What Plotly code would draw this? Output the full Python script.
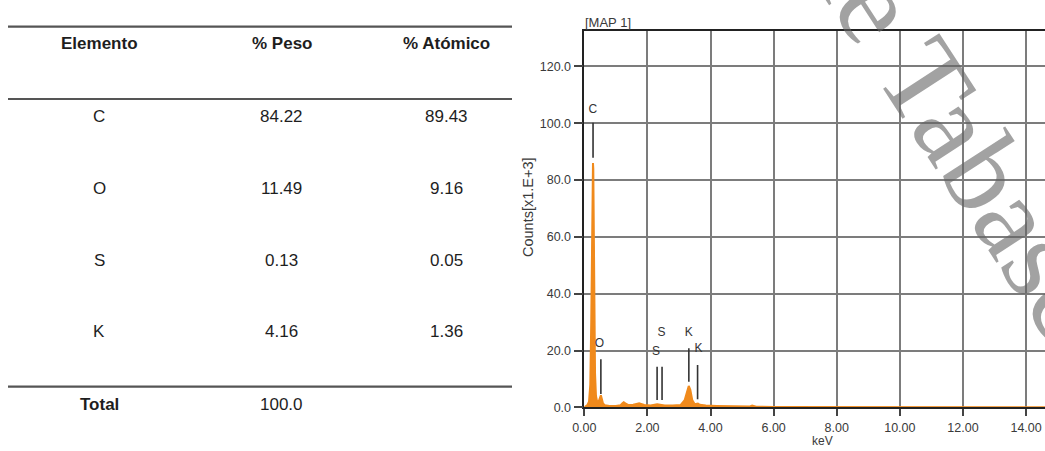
import plotly.graph_objects as go

# ---------------- data ----------------
headers = ["Elemento", "% Peso", "% Atómico"]
elements = ["C", "O", "S", "K"]
peso = ["84.22", "11.49", "0.13", "4.16"]
atomico = ["89.43", "9.16", "0.05", "1.36"]
total_label = "Total"
total_peso = "100.0"

# EDS spectrum (keV, counts x1000)
energy_kev = [0.00, 0.05, 0.10, 0.15, 0.19, 0.22, 0.24, 0.26, 0.275, 0.285, 0.30, 0.32, 0.34,
              0.37, 0.41, 0.46, 0.50, 0.525, 0.55, 0.59, 0.65, 0.80, 1.00, 1.15, 1.21,
              1.25, 1.30, 1.40, 1.55, 1.68, 1.74, 1.80, 1.90, 2.10, 2.25, 2.31, 2.40,
              2.55, 2.80, 3.05, 3.18, 3.25, 3.31, 3.36, 3.42, 3.50, 3.56, 3.60, 3.66,
              3.85, 4.20, 4.70, 5.10, 5.25, 5.32, 5.45, 6.00, 8.00, 10.00, 12.00, 14.60]
counts_k = [0.0, 0.3, 0.8, 2.0, 8.0, 30.0, 60.0, 82.0, 86.0, 84.0, 62.0, 30.0, 12.0,
            4.0, 1.8, 2.2, 3.5, 4.2, 3.2, 1.4, 0.7, 0.5, 0.5, 0.7, 1.4,
            1.8, 1.4, 0.8, 0.9, 1.3, 1.4, 1.2, 0.8, 0.6, 0.9, 1.1, 0.9,
            0.6, 0.6, 0.8, 2.5, 5.5, 7.5, 6.2, 2.6, 1.1, 1.2, 1.3, 0.9,
            0.6, 0.5, 0.4, 0.3, 0.3, 0.6, 0.2, 0.1, 0.05, 0.05, 0.05, 0.05]

# peak identification markers
marker_labels = ["C", "O", "S", "S", "K", "K"]
marker_energy = [0.277, 0.525, 2.307, 2.464, 3.313, 3.590]
marker_top = [100.2, 16.9, 14.3, 14.3, 20.8, 14.9]
marker_bottom = [87.9, 4.7, 2.6, 2.6, 9.0, 2.8]
label_energy = [0.27, 0.48, 2.27, 2.45, 3.31, 3.62]
label_counts = [104.8, 22.2, 19.6, 26.0, 26.3, 20.4]

x_ticks = [0, 2, 4, 6, 8, 10, 12, 14]
y_ticks = [0, 20, 40, 60, 80, 100, 120]

W, H = 1045, 451


def px(x):
    return x / W


def py(y):
    return 1 - y / H


fig = go.Figure()

# spectrum
fig.add_trace(go.Scatter(
    x=energy_kev, y=counts_k, mode="lines",
    line=dict(color="#F08A1C", width=2),
    fill="tozeroy", fillcolor="#F08A1C",
    hoverinfo="skip", showlegend=False))

# marker lines
mx, my = [], []
for e, t, b in zip(marker_energy, marker_top, marker_bottom):
    mx += [e, e, None]
    my += [b, t, None]
fig.add_trace(go.Scatter(x=mx, y=my, mode="lines",
                         line=dict(color="#333333", width=1.6),
                         hoverinfo="skip", showlegend=False))

fig.add_trace(go.Scatter(x=label_energy, y=label_counts, mode="text",
                         text=marker_labels,
                         textfont=dict(family="Liberation Sans", size=12, color="#333333"),
                         hoverinfo="skip", showlegend=False))

tick_font = dict(family="Liberation Sans", size=12.5, color="#3a3a3a")

fig.update_xaxes(
    domain=[px(584.3), 1.0], range=[0, 14.60], automargin=False,
    tickvals=x_ticks, ticktext=[f"{v:.2f}" for v in x_ticks],
    showgrid=True, gridcolor="#7c7c7c", gridwidth=1.5,
    showline=True, linecolor="#222222", linewidth=1.5, mirror=True,
    ticks="outside", ticklen=7, tickcolor="#444444", tickwidth=1.5,
    ticklabelstandoff=1,
    tickfont=tick_font, zeroline=False)
fig.update_yaxes(
    domain=[py(407.3), py(30.7)], range=[0, 132.6], automargin=False,
    tickvals=y_ticks, ticktext=[f"{v:.1f}" for v in y_ticks],
    showgrid=True, gridcolor="#7c7c7c", gridwidth=1.5,
    showline=True, linecolor="#222222", linewidth=1.5,
    ticks="outside", ticklen=9, tickcolor="#444444", tickwidth=1.5,
    tickfont=tick_font, zeroline=False)

annotations = []


def ann(text, x, y, font, **kw):
    d = dict(text=text, x=px(x), y=py(y), xref="paper", yref="paper",
             xanchor="center", yanchor="middle", showarrow=False, font=font)
    d.update(kw)
    annotations.append(d)


lab_font = dict(family="Liberation Sans", size=13, color="#3a3a3a")
ann("Counts[x1.E+3]", 528, 207, dict(family="Liberation Sans", size=14.5, color="#3a3a3a"),
    textangle=-90)
ann("keV", 822, 441, dict(family="Liberation Sans", size=12, color="#3a3a3a"))
ann("[MAP 1]", 583, 22.7, lab_font, xanchor="left")

# table
col_x = [99.3, 281.7, 446.7]
txt_font = dict(family="Liberation Sans", size=17, color="#1e1e1e")
for cx, h in zip(col_x, headers):
    ann(f"<b>{h}</b>", cx, 44, txt_font)
row_y0, row_step = 116.7, 71.7
for i, (el, p, a) in enumerate(zip(elements, peso, atomico)):
    ry = row_y0 + i * row_step
    for cx, val in zip(col_x, [el, p, a]):
        ann(val, cx, ry, txt_font)
ann(f"<b>{total_label}</b>", col_x[0], 404, txt_font)
ann(total_peso, col_x[1], 404, txt_font)

# watermark
ann("de Tabasco", 974, 155,
    dict(family="Liberation Serif", size=118, color="rgba(100,100,100,0.6)"),
    textangle=57)

shapes = []
for ly in [26.7, 99.0, 386.7]:
    shapes.append(dict(type="line", xref="paper", yref="paper",
                       x0=px(8), x1=px(512), y0=py(ly), y1=py(ly),
                       line=dict(color="#555555", width=2.2)))

fig.update_layout(
    template="none",
    width=W, height=H, margin=dict(l=0, r=0, t=0, b=0, pad=0),
    paper_bgcolor="white", plot_bgcolor="white",
    annotations=annotations, shapes=shapes, showlegend=False)

fig.write_html("out.html", config={"displayModeBar": False},
               post_script="document.body.style.margin='0';document.body.style.overflow='hidden';")
